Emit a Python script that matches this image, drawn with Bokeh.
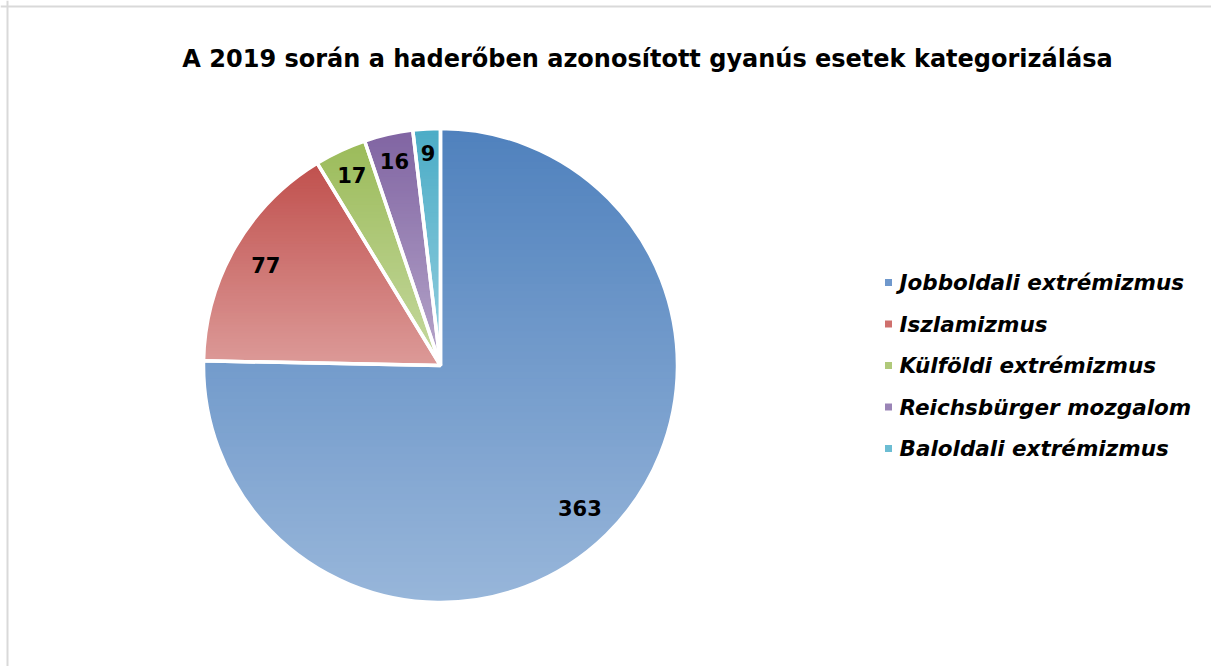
import numpy as np
from bokeh.plotting import figure
from bokeh.models import Range1d, Span
from bokeh.embed import file_html
from bokeh.resources import INLINE
from bokeh.core.properties import value

# ---- data ----
title_text = "A 2019 során a haderőben azonosított gyanús esetek kategorizálása"
categories = ["Jobboldali extrémizmus", "Iszlamizmus", "Külföldi extrémizmus",
              "Reichsbürger mozgalom", "Baloldali extrémizmus"]
counts = [363, 77, 17, 16, 9]

# ---- style ----
top_colors = ["#4f81bd", "#c0504d", "#9bbb59", "#8064a2", "#4bacc6"]
bottom_colors = ["#98b6da", "#dc9a98", "#c6d9a0", "#b6a6ca", "#96d0e0"]
legend_colors = ["#6f98cc", "#cf706d", "#b0c97a", "#9a84b6", "#6cbdd3"]
label_r = [0.84, 0.85, 0.885, 0.885, 0.9]
FONT = value("DejaVu Sans")

W, H = 1211, 666
p = figure(width=W, height=H, x_range=Range1d(0, W), y_range=Range1d(0, H),
           output_backend="svg", toolbar_location=None, min_border=0,
           x_axis_location=None, y_axis_location=None)
p.grid.visible = False
p.outline_line_color = None
p.background_fill_color = "white"
p.border_fill_color = "white"

# chart border (partially visible like reference)
p.add_layout(Span(location=7, dimension="height", line_color="#d9d9d9", line_width=2))
p.add_layout(Span(location=H - 6, dimension="width", line_color="#d9d9d9", line_width=2))

cx, cy, R = 440.0, H - 365.0, 237.0
total = float(sum(counts))
fracs = np.array(counts) / total
starts = np.pi / 2 - 2 * np.pi * np.concatenate([[0], np.cumsum(fracs)[:-1]])
ends = starts - 2 * np.pi * fracs


def hex2rgb(h):
    h = h.lstrip("#")
    return np.array([int(h[i:i + 2], 16) for i in (0, 2, 4)], float)


def rgb2hex(c):
    return "#%02x%02x%02x" % tuple(int(round(v)) for v in c)


def clip(poly, y0, keep_above):
    out = []
    n = len(poly)
    for i in range(n):
        a = poly[i]
        b = poly[(i + 1) % n]
        ina = (a[1] >= y0) if keep_above else (a[1] <= y0)
        inb = (b[1] >= y0) if keep_above else (b[1] <= y0)
        if ina:
            out.append(a)
        if ina != inb:
            t = (y0 - a[1]) / (b[1] - a[1])
            out.append((a[0] + t * (b[0] - a[0]), y0))
    return out


xs_all, ys_all, cols_all = [], [], []
NB = 70
for s, e, ct, cb in zip(starts, ends, top_colors, bottom_colors):
    th = np.linspace(s, e, 240)
    poly = [(cx, cy)] + [(cx + R * np.cos(t), cy + R * np.sin(t)) for t in th]
    ymin = min(q[1] for q in poly)
    ymax = max(q[1] for q in poly)
    c_top, c_bot = hex2rgb(ct), hex2rgb(cb)
    edges = np.linspace(ymax, ymin, NB + 1)
    for k in range(NB):
        y_hi, y_lo = edges[k], edges[k + 1]
        pc = clip(poly, y_lo - 0.4, True)
        if len(pc) < 3:
            continue
        pc = clip(pc, y_hi + 0.4, False)
        if len(pc) < 3:
            continue
        t = (k + 0.5) / NB
        col = rgb2hex(c_top + (c_bot - c_top) * t)
        xs_all.append([q[0] for q in pc])
        ys_all.append([q[1] for q in pc])
        cols_all.append(col)

p.patches(xs_all, ys_all, fill_color=cols_all, line_color=None)

# white separators
p.wedge(x=cx, y=cy, radius=R, start_angle=list(starts), end_angle=list(ends),
        direction="clock", fill_color=None, line_color="white", line_width=3.5)

# data labels
mids = (starts + ends) / 2
lx = [cx + R * f * np.cos(m) for f, m in zip(label_r, mids)]
ly = [cy + R * f * np.sin(m) for f, m in zip(label_r, mids)]
p.text(x=lx, y=ly, text=[str(c) for c in counts], text_font=FONT,
       text_font_style="bold", text_font_size="21px", text_color="black",
       text_align="center", text_baseline="middle")

# title
p.text(x=[647], y=[H - 58], text=[title_text], text_font=FONT,
       text_font_style="bold", text_font_size="24px", text_color="black",
       text_align="center", text_baseline="middle")

# legend
leg_y = [H - (282 + i * 41.5) for i in range(len(categories))]
p.rect(x=[888] * len(categories), y=leg_y, width=7, height=7,
       fill_color=legend_colors, line_color=None)
p.text(x=[899] * len(categories), y=leg_y, text=categories, text_font=FONT,
       text_font_style="bold italic", text_font_size="21.5px", text_color="black",
       text_align="left", text_baseline="middle")

open("out.html", "w").write(file_html(p, INLINE))
